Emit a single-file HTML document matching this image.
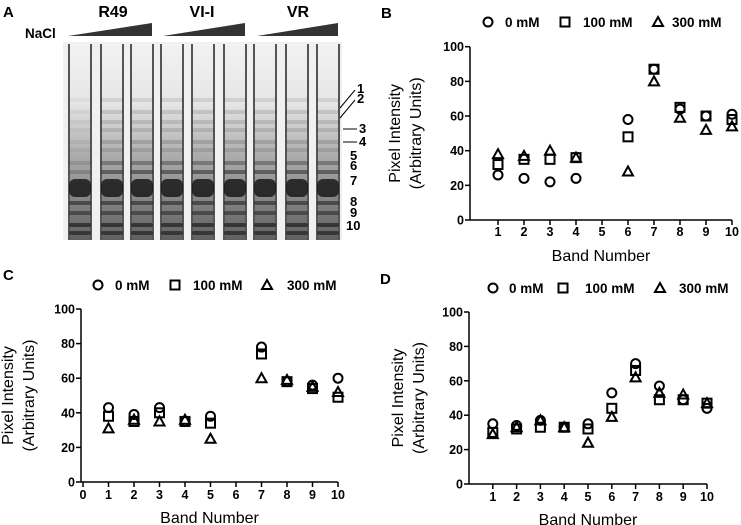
<!DOCTYPE html>
<html><head><meta charset="utf-8">
<style>
body{margin:0;background:#fff;}
svg{display:block;font-family:"Liberation Sans",Arial,sans-serif;}
.tk{font-size:12.5px;font-weight:bold;}
.lg{font-size:13.5px;font-weight:bold;}
.at{font-size:16px;}
.pl{font-size:15px;font-weight:bold;}
</style></head><body>
<svg id="fig" width="741" height="525" viewBox="0 0 741 525">
<defs>
<linearGradient id="lane" x1="0" y1="0" x2="0" y2="1">
<stop offset="0" stop-color="#f2f2f2"/><stop offset="0.3" stop-color="#e6e6e6"/><stop offset="0.55" stop-color="#b0b0b0"/><stop offset="1" stop-color="#606060"/>
</linearGradient>
</defs>
<g id="panelA">
<text x="3" y="17" class="pl">A</text>
<text x="113" y="17" class="pl" text-anchor="middle" style="font-size:16px">R49</text>
<text x="202" y="17" class="pl" text-anchor="middle" style="font-size:16px">VI-I</text>
<text x="298" y="17" class="pl" text-anchor="middle" style="font-size:16px">VR</text>
<text x="25" y="38" class="lg">NaCl</text>
<polygon points="68,36 152,36 152,23" fill="#333"/>
<polygon points="163,36 245,36 245,23" fill="#333"/>
<polygon points="257,36 338,36 338,23" fill="#333"/>
<rect x="63" y="42" width="279" height="198" fill="#f0f0f0"/>
<g id="lanes"></g>
<g font-size="13" font-weight="bold">
<text x="357" y="93">1</text><text x="357" y="103">2</text><text x="359" y="133">3</text><text x="359" y="146">4</text>
<text x="350" y="160">5</text><text x="350" y="170">6</text><text x="350" y="185">7</text>
<text x="350" y="206">8</text><text x="350" y="217">9</text><text x="346" y="230">10</text>
<line x1="340" y1="108" x2="355" y2="90" stroke="#000"/>
<line x1="340" y1="118" x2="355" y2="100" stroke="#000"/>
<line x1="343" y1="129" x2="357" y2="129" stroke="#000"/>
<line x1="343" y1="142" x2="357" y2="142" stroke="#000"/>
</g>
</g>
<g id="charts"></g>
</svg>
<script>
const NS='http://www.w3.org/2000/svg';
const svg=document.getElementById('fig');
function mk(tag,attrs,parent){const e=document.createElementNS(NS,tag);for(const k in attrs)e.setAttribute(k,attrs[k]);parent.appendChild(e);return e;}

// Gel lanes
const laneCenters=[80,112,142,172,203,235,265,297,328];
const bandY=[100,112,122,130,142,150,163,172,188,203,213,225,233];
const bandDark=[0.1,0.12,0.12,0.12,0.15,0.12,0.3,0.45,0.8,0.5,0.45,0.6,0.55];
const lg=document.getElementById('lanes');
laneCenters.forEach((c,i)=>{
  mk('rect',{x:c-12,y:44,width:2,height:196,fill:'#555'},lg);
  mk('rect',{x:c+10,y:44,width:2,height:196,fill:'#555'},lg);
  const r=mk('rect',{x:c-10,y:44,width:20,height:196,fill:'url(#lane)'},lg);
  
  
  bandY.forEach((y,j)=>{
    let d=bandDark[j]; if(i===0&&j<8) d*=0.4;
    const big=j===8;
    const b=mk('rect',{x:c-11,y:big?y-9:y-2,width:22,height:big?18:4,fill:'#111','fill-opacity':d,rx:big?6:2},lg);
    
    
  });
});

// Chart data
const bandsB=[1,2,3,4,6,7,8,9,10];
const b0=[26,24,22,24,58,87,64,60,61];
const b100=[32,35,35,36,48,87,65,60,58];
const b300=[38,37,40,36,28,80,59,52,54];
const bandsC=[1,2,3,4,5,7,8,9,10];
const c0=[43,39,43,35,38,78,58,56,60];
const c100=[38,35,40,35,34,74,58,54,49];
const c300=[31,36,35,36,25,60,59,55,52];
const bandsD=[1,2,3,4,5,6,7,8,9,10];
const d0=[35,34,37,33,35,53,70,57,49,44];
const d100=[30,32,33,33,32,44,66,49,49,47];
const d300=[29,33,37,33,24,39,62,53,52,47];
const yTicks=[0,20,40,60,80,100];
const xTicksB=[1,2,3,4,5,6,7,8,9,10];
const xTicksC=[0,1,2,3,4,5,6,7,8,9,10];

const cg=document.getElementById('charts');
function chart(o){
  const g=mk('g',{},cg);
  
  
  const X=v=>o.x0+v*(o.x10-o.x0)/10;
  const Y=v=>o.y0+v*(o.y100-o.y0)/100;
  const pl=mk('text',{x:o.lx,y:o.ly,class:'pl'},g);pl.textContent=o.id.toUpperCase();
  
  
  const ya=mk('line',{x1:o.ax,y1:Y(0),x2:o.ax,y2:Y(100),stroke:'#000','stroke-width':1.5},g);
  
  
  const xa=mk('line',{x1:o.ax,y1:Y(0),x2:X(10),y2:Y(0),stroke:'#000','stroke-width':1.5},g);
  
  
  yTicks.forEach(t=>{
    mk('line',{x1:o.ax-5,y1:Y(t),x2:o.ax,y2:Y(t),stroke:'#000','stroke-width':1.5},g);
    const tx=mk('text',{x:o.ax-6,y:Y(t)+4.5,class:'tk','text-anchor':'end'},g);tx.textContent=t;
    
    
  });
  o.xt.forEach(t=>{
    mk('line',{x1:X(t),y1:Y(0),x2:X(t),y2:Y(0)+5,stroke:'#000','stroke-width':1.5},g);
    const tx=mk('text',{x:X(t),y:o.tly,class:'tk','text-anchor':'middle'},g);tx.textContent=t;
    
    
  });
  const xt=mk('text',{x:(o.ax+X(10))/2,y:o.xty,class:'at','text-anchor':'middle'},g);xt.textContent='Band Number';
  
  
  const cy=(Y(0)+Y(100))/2;
  [['Pixel Intensity',o.ytx1],['(Arbitrary Units)',o.ytx2]].forEach(([s,x])=>{
    const t=mk('text',{x:x,y:cy,class:'at','text-anchor':'middle',transform:`rotate(-90 ${x} ${cy})`},g);t.textContent=s;
    
    
  });
  const marker=(type,x,y,parent)=>{
    let m;
    if(type===0) m=mk('circle',{cx:x,cy:y,r:4.5,fill:'none',stroke:'#000','stroke-width':2},parent);
    else if(type===1) m=mk('rect',{x:x-4.5,y:y-4.5,width:9,height:9,fill:'none',stroke:'#000','stroke-width':2},parent);
    else m=mk('polygon',{points:`${x},${y-5} ${x+5},${y+4} ${x-5},${y+4}`,fill:'none',stroke:'#000','stroke-width':2},parent);
    return m;
  };
  const names=['0 mM','100 mM','300 mM'];
  o.series.forEach((s,k)=>{
    const sg=mk('g',{},g);
    
    
    s.forEach((v,i)=>{
      const m=marker(k,X(o.bands[i]),Y(v),sg);
      
      
    });
    const lm=marker(k,o.leg[k][0],o.legy-5,g);
    
    
    const lt=mk('text',{x:o.leg[k][1],y:o.legy,class:'lg'},g);lt.textContent=names[k];
    
    
  });
}
chart({id:'b',x0:472,x10:732,ax:470,y0:220,y100:46.7,xt:xTicksB,tly:236,xty:261,ytx1:400,ytx2:421,lx:381,ly:18,
  legy:27,leg:[[488,505],[565,583],[658,672]],bands:bandsB,series:[b0,b100,b300]});
chart({id:'c',x0:83,x10:338,ax:81,y0:482,y100:309,xt:xTicksC,tly:499,xty:523,ytx1:13,ytx2:34,lx:3,ly:280,
  legy:290,leg:[[98,115],[175,193],[267,287]],bands:bandsC,series:[c0,c100,c300]});
chart({id:'d',x0:469,x10:707,ax:469,y0:484,y100:312,xt:xTicksB,tly:501,xty:525,ytx1:403,ytx2:424,lx:380,ly:284,
  legy:293,leg:[[493,509],[563,585],[660,679]],bands:bandsD,series:[d0,d100,d300]});
</script>
</body></html>
